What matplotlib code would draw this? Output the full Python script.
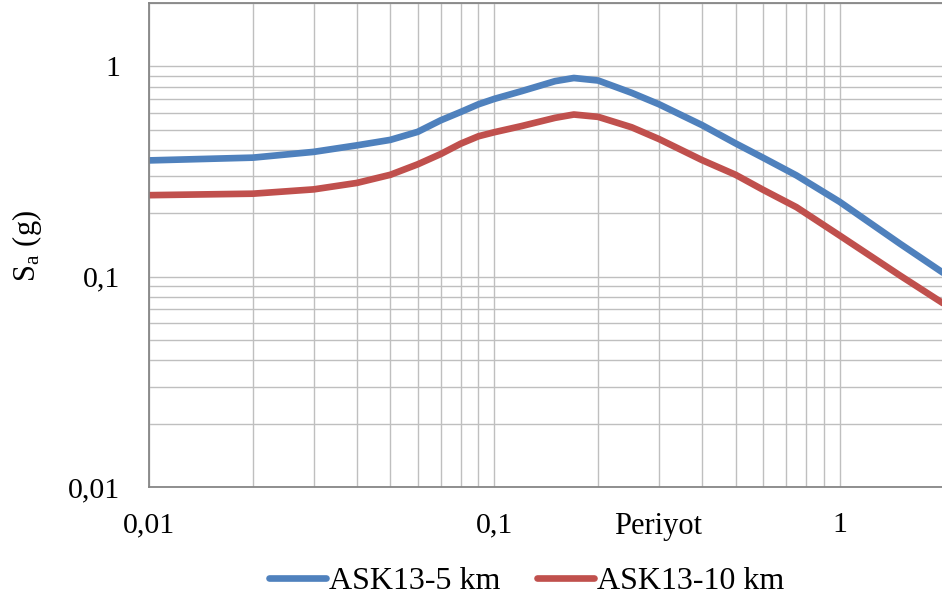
import matplotlib
matplotlib.use("Agg")
import matplotlib.pyplot as plt
from matplotlib.ticker import LogLocator, NullFormatter

# values (period in s, Sa in g)
periods = [0.01, 0.02, 0.03, 0.04, 0.05, 0.06, 0.07, 0.08, 0.09, 0.1, 0.12,
           0.15, 0.17, 0.2, 0.25, 0.3, 0.4, 0.5, 0.6, 0.75, 1.0, 1.5, 2.0]
sa_5km = [0.357, 0.368, 0.392, 0.421, 0.447, 0.488, 0.554, 0.607, 0.66, 0.70, 0.762,
          0.85, 0.88, 0.856, 0.748, 0.66, 0.525, 0.43, 0.368, 0.303, 0.227, 0.143, 0.104]
sa_10km = [0.244, 0.248, 0.26, 0.279, 0.305, 0.342, 0.383, 0.429, 0.465, 0.486, 0.52,
           0.569, 0.59, 0.575, 0.513, 0.451, 0.358, 0.305, 0.259, 0.214, 0.157, 0.101, 0.0745]

tick_vals = [0.01, 0.1, 1]
tick_labels = ["0,01", "0,1", "1"]

plt.rcParams["font.family"] = ["Liberation Serif", "DejaVu Serif"]
plt.rcParams["mathtext.fontset"] = "stix"

fig = plt.figure(figsize=(9.42, 6.05), dpi=100)
ax = fig.add_axes([149 / 942, 1 - 487 / 605, 1 - 149 / 942, (487 - 3) / 605])

ax.plot(periods, sa_5km, color="#4F81BD", lw=4.8, solid_joinstyle="round",
        solid_capstyle="round", label="ASK13-5 km")
ax.plot(periods, sa_10km, color="#C0504D", lw=4.8, solid_joinstyle="round",
        solid_capstyle="round", label="ASK13-10 km")

ax.set_xscale("log")
ax.set_yscale("log")
ax.set_xlim(0.01, 1.98)
ax.set_ylim(0.01, 2)

ax.set_xticks(tick_vals)
ax.set_xticklabels(tick_labels)
ax.set_yticks(tick_vals)
ax.set_yticklabels(tick_labels)
for axis in (ax.xaxis, ax.yaxis):
    axis.set_minor_locator(LogLocator(base=10, subs=range(2, 10)))
    axis.set_minor_formatter(NullFormatter())

ax.grid(True, which="both", color="#BFBFBF", lw=1.0)
ax.set_axisbelow(True)
ax.tick_params(which="both", length=0, labelsize=21.5)
ax.tick_params(axis="y", pad=21)
ax.tick_params(axis="x", pad=18)

for side in ["left", "bottom", "top"]:
    ax.spines[side].set_color("#868686")
    ax.spines[side].set_linewidth(1.3)
ax.spines["right"].set_visible(False)

ax.text(0.642, -0.097, "Periyot", transform=ax.transAxes, ha="center",
        va="baseline", fontsize=22)
fig.text(27 / 942, 1 - 246 / 605, r"S$_{\mathregular{a}}$ (g)", rotation=90,
         ha="center", va="center", fontsize=22)

fig.legend(loc="center", bbox_to_anchor=(527 / 942, 1 - 581 / 605), ncol=2,
           frameon=False, fontsize=23, handlelength=1.78, handletextpad=0.1,
           columnspacing=1.15)

fig.savefig("out.png", dpi=100)
